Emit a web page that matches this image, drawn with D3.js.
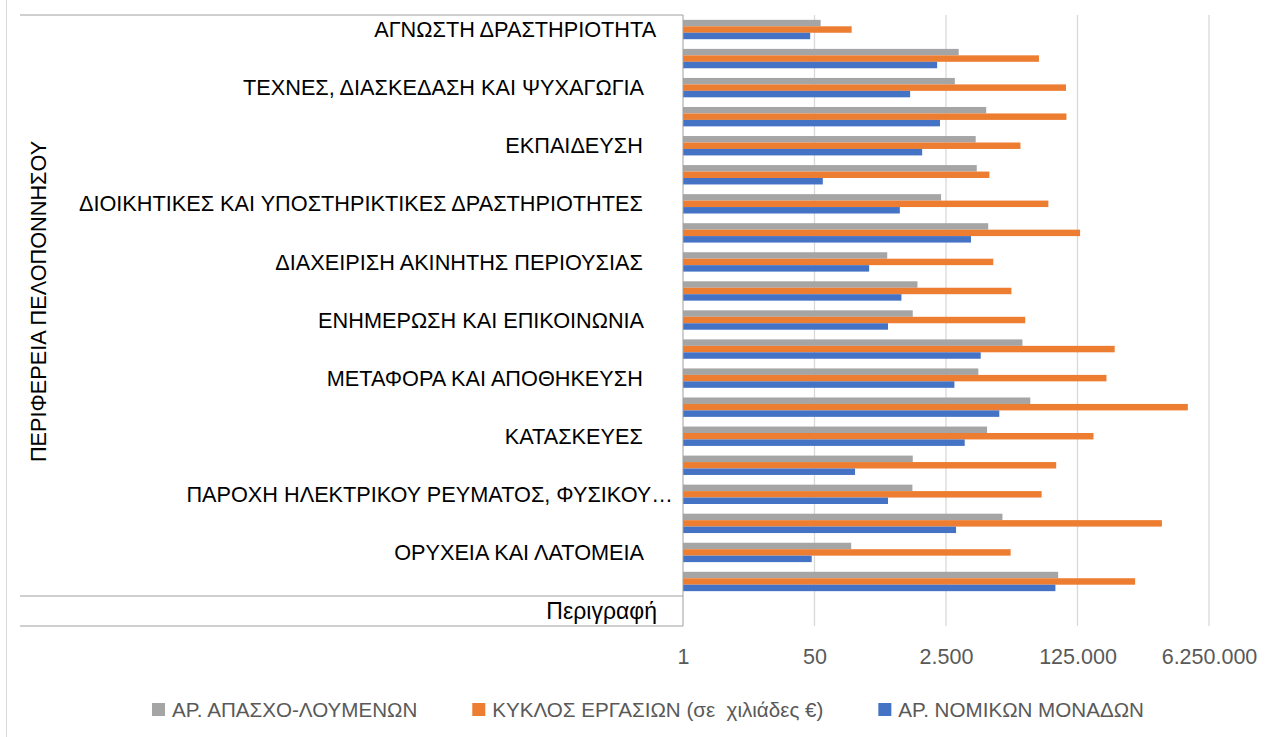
<!DOCTYPE html>
<html>
<head>
<meta charset="utf-8">
<script src="https://cdn.jsdelivr.net/npm/d3@7"></script>
<style>
  body { margin: 0; background: #fff; }
  svg text { font-family: "Liberation Sans", Arial, sans-serif; }
</style>
</head>
<body>
<svg id="chart"></svg>
<script>
// categories, listed top to bottom as they appear in the chart
const categories = [
    'ΑΓΝΩΣΤΗ ΔΡΑΣΤΗΡΙΟΤΗΤΑ',
    'ΑΛΛΕΣ ΔΡΑΣΤΗΡΙΟΤΗΤΕΣ ΠΑΡΟΧΗΣ ΥΠΗΡΕΣΙΩΝ',
    'ΤΕΧΝΕΣ, ΔΙΑΣΚΕΔΑΣΗ ΚΑΙ ΨΥΧΑΓΩΓΙΑ',
    'ΑΝΘΡΩΠΙΝΗ ΥΓΕΙΑ ΚΑΙ ΚΟΙΝΩΝΙΚΗ ΜΕΡΙΜΝΑ',
    'ΕΚΠΑΙΔΕΥΣΗ',
    'ΔΗΜΟΣΙΑ ΔΙΟΙΚΗΣΗ ΚΑΙ ΑΜΥΝΑ',
    'ΔΙΟΙΚΗΤΙΚΕΣ ΚΑΙ ΥΠΟΣΤΗΡΙΚΤΙΚΕΣ ΔΡΑΣΤΗΡΙΟΤΗΤΕΣ',
    'ΕΠΑΓΓΕΛΜΑΤΙΚΕΣ, ΕΠΙΣΤΗΜΟΝΙΚΕΣ ΚΑΙ ΤΕΧΝΙΚΕΣ ΔΡΑΣΤΗΡΙΟΤΗΤΕΣ',
    'ΔΙΑΧΕΙΡΙΣΗ ΑΚΙΝΗΤΗΣ ΠΕΡΙΟΥΣΙΑΣ',
    'ΧΡΗΜΑΤΟΠΙΣΤΩΤΙΚΕΣ ΚΑΙ ΑΣΦΑΛΙΣΤΙΚΕΣ ΔΡΑΣΤΗΡΙΟΤΗΤΕΣ',
    'ΕΝΗΜΕΡΩΣΗ ΚΑΙ ΕΠΙΚΟΙΝΩΝΙΑ',
    'ΚΑΤΑΛΥΜΑΤΑ ΚΑΙ ΥΠΗΡΕΣΙΕΣ ΕΣΤΙΑΣΗΣ',
    'ΜΕΤΑΦΟΡΑ ΚΑΙ ΑΠΟΘΗΚΕΥΣΗ',
    'ΧΟΝΔΡΙΚΟ ΚΑΙ ΛΙΑΝΙΚΟ ΕΜΠΟΡΙΟ',
    'ΚΑΤΑΣΚΕΥΕΣ',
    'ΠΑΡΟΧΗ ΝΕΡΟΥ, ΕΠΕΞΕΡΓΑΣΙΑ ΛΥΜΑΤΩΝ',
    'ΠΑΡΟΧΗ ΗΛΕΚΤΡΙΚΟΥ ΡΕΥΜΑΤΟΣ, ΦΥΣΙΚΟΥ ΑΕΡΙΟΥ',
    'ΜΕΤΑΠΟΙΗΣΗ',
    'ΟΡΥΧΕΙΑ ΚΑΙ ΛΑΤΟΜΕΙΑ',
    'ΓΕΩΡΓΙΑ, ΔΑΣΟΚΟΜΙΑ ΚΑΙ ΑΛΙΕΙΑ'
];

// only every other label is shown on the axis (trailing spaces as in the source)
const categoryLabels = [
    'ΑΓΝΩΣΤΗ ΔΡΑΣΤΗΡΙΟΤΗΤΑ   ', '',
    'ΤΕΧΝΕΣ, ΔΙΑΣΚΕΔΑΣΗ ΚΑΙ ΨΥΧΑΓΩΓΙΑ     ', '',
    'ΕΚΠΑΙΔΕΥΣΗ     ', '',
    'ΔΙΟΙΚΗΤΙΚΕΣ ΚΑΙ ΥΠΟΣΤΗΡΙΚΤΙΚΕΣ ΔΡΑΣΤΗΡΙΟΤΗΤΕΣ     ', '',
    'ΔΙΑΧΕΙΡΙΣΗ ΑΚΙΝΗΤΗΣ ΠΕΡΙΟΥΣΙΑΣ     ', '',
    'ΕΝΗΜΕΡΩΣΗ ΚΑΙ ΕΠΙΚΟΙΝΩΝΙΑ     ', '',
    'ΜΕΤΑΦΟΡΑ ΚΑΙ ΑΠΟΘΗΚΕΥΣΗ     ', '',
    'ΚΑΤΑΣΚΕΥΕΣ     ', '',
    'ΠΑΡΟΧΗ ΗΛΕΚΤΡΙΚΟΥ ΡΕΥΜΑΤΟΣ, ΦΥΣΙΚΟΥ…', '',
    'ΟΡΥΧΕΙΑ ΚΑΙ ΛΑΤΟΜΕΙΑ     ', ''
];

const employees = [60, 3650, 3250, 8270, 6050, 6240, 2160, 8780, 435, 1070,
    930, 24300, 6540, 30700, 8480, 930, 920, 13400, 149, 70300];
const turnover = [151, 39700, 88800, 89900, 22900, 9090, 52500, 135000, 10200, 17500,
    26400, 378000, 296000, 3330000, 201000, 66300, 43000, 1540000, 17100, 694000];
const legalUnits = [44, 1920, 860, 2090, 1230, 64, 633, 5260, 254, 664,
    445, 7020, 3210, 12200, 4360, 167, 445, 3370, 46, 64800];

const seriesNames = ['ΑΡ. ΑΠΑΣΧΟ-ΛΟΥΜΕΝΩΝ', 'ΚΥΚΛΟΣ ΕΡΓΑΣΙΩΝ (σε  χιλιάδες €)', 'ΑΡ. ΝΟΜΙΚΩΝ ΜΟΝΑΔΩΝ'];
const seriesColors = ['#a5a5a5', '#ed7d31', '#4472c4'];
const tickValues = [1, 50, 2500, 125000, 6250000];
const regionLabel = 'ΠΕΡΙΦΕΡΕΙΑ ΠΕΛΟΠΟΝΝΗΣΟΥ';
const descLabel = 'Περιγραφή';

class LogBarChart {

    constructor(_config) {
        this.config = {
            parentElement: _config.parentElement,
            containerWidth: 1277,
            containerHeight: 737,
            margin: { top: 15, left: 683 },
            plotHeight: 581,
            descRowHeight: 30,
            decadeWidth: 131.5,
            axisMax: 312500000,
            axisColor: '#a0a0a0',
            gridColor: '#d9d9d9',
            textColor: '#595959'
        };
        this.data = categories.map((c, i) => ({
            key: c,
            label: categoryLabels[i],
            values: [employees[i], turnover[i], legalUnits[i]]
        }));
        this.initVis();
    }

    initVis() {
        let vis = this;
        const cfg = vis.config;
        vis.height = cfg.plotHeight;

        vis.svg = d3.select(cfg.parentElement)
            .attr('width', cfg.containerWidth)
            .attr('height', cfg.containerHeight);

        // outer chart border (left edge only visible)
        vis.svg.append('line')
            .attr('x1', 6.5).attr('x2', 6.5)
            .attr('y1', 0).attr('y2', cfg.containerHeight)
            .attr('stroke', cfg.gridColor);

        vis.chart = vis.svg.append('g')
            .attr('transform', `translate(${cfg.margin.left},${cfg.margin.top})`);

        // log scale, base 50 (the axis runs past the right edge of the picture)
        vis.xScale = d3.scaleLog()
            .base(50)
            .domain([1, cfg.axisMax])
            .range([0, 5 * cfg.decadeWidth]);

        vis.yScale = d3.scaleBand()
            .domain(categories)
            .range([0, vis.height])
            .paddingInner(1 / 3)
            .paddingOuter(1 / 6);

        vis.ySub = d3.scaleBand()
            .domain(d3.range(seriesNames.length))
            .range([0, vis.yScale.bandwidth()]);

        vis.renderVis();
    }

    renderVis() {
        let vis = this;
        const cfg = vis.config;
        const locale = d3.formatLocale({ decimal: ',', thousands: '.', grouping: [3], currency: ['', '€'] });
        const fmt = locale.format(',d');
        const boxBottom = vis.height + cfg.descRowHeight;

        // gridlines (run down through the description row)
        vis.chart.append('g')
            .selectAll('line')
            .data(tickValues.slice(1))
            .join('line')
            .attr('x1', d => vis.xScale(d))
            .attr('x2', d => vis.xScale(d))
            .attr('y1', 0)
            .attr('y2', boxBottom)
            .attr('stroke', cfg.gridColor)
            .attr('stroke-width', 1.3);

        // x-axis tick labels
        vis.xAxis = d3.axisBottom(vis.xScale)
            .tickValues(tickValues)
            .tickFormat(fmt)
            .tickSize(0)
            .tickPadding(0);

        vis.xAxisG = vis.chart.append('g')
            .attr('transform', `translate(0,${vis.height + 53})`)
            .call(vis.xAxis);
        vis.xAxisG.select('.domain').remove();
        vis.xAxisG.selectAll('text')
            .attr('fill', cfg.textColor)
            .attr('font-size', 21.5)
            .attr('font-family', '"Liberation Sans", Arial, sans-serif')
            .attr('dy', '0.71em');

        // bars
        const groups = vis.chart.selectAll('.row')
            .data(vis.data)
            .join('g')
            .attr('class', 'row')
            .attr('transform', d => `translate(0,${vis.yScale(d.key)})`);

        groups.selectAll('rect')
            .data(d => d.values)
            .join('rect')
            .attr('x', 0)
            .attr('y', (d, i) => vis.ySub(i))
            .attr('width', d => vis.xScale(d))
            .attr('height', vis.ySub.bandwidth())
            .attr('fill', (d, i) => seriesColors[i]);

        // category box lines (multi-level axis)
        const boxLeft = 20 - cfg.margin.left;
        const rowLines = [0, vis.height, boxBottom];
        vis.chart.append('g')
            .selectAll('line')
            .data(rowLines)
            .join('line')
            .attr('x1', boxLeft)
            .attr('x2', 0)
            .attr('y1', d => d)
            .attr('y2', d => d)
            .attr('stroke', cfg.axisColor);

        vis.chart.append('line')
            .attr('x1', 0).attr('x2', 0)
            .attr('y1', 0).attr('y2', boxBottom)
            .attr('stroke', cfg.axisColor);

        // category labels
        vis.chart.append('g')
            .selectAll('text')
            .data(vis.data.filter(d => d.label !== ''))
            .join('text')
            .attr('x', -10)
            .attr('y', d => vis.yScale(d.key) + vis.yScale.bandwidth() / 2)
            .attr('dy', '0.35em')
            .attr('text-anchor', 'end')
            .attr('xml:space', 'preserve')
            .style('white-space', 'pre')
            .attr('font-size', 21.7)
            .attr('fill', '#000')
            .text(d => d.label);

        // outer level label
        vis.chart.append('text')
            .attr('transform', `translate(${38 - cfg.margin.left},${vis.height / 2 - 4}) rotate(-90)`)
            .attr('text-anchor', 'middle')
            .attr('dy', '0.35em')
            .attr('font-size', 21.7)
            .attr('fill', '#000')
            .text(regionLabel);

        vis.chart.append('text')
            .attr('x', -26)
            .attr('y', vis.height + 15)
            .attr('dy', '0.35em')
            .attr('text-anchor', 'end')
            .attr('font-size', 23)
            .attr('fill', '#000')
            .text(descLabel);

        vis.renderLegend();
    }

    renderLegend() {
        let vis = this;
        const cfg = vis.config;
        const legend = vis.svg.append('g')
            .attr('transform', 'translate(152,703)');
        let xPos = 0;
        seriesNames.forEach((name, i) => {
            const item = legend.append('g').attr('transform', `translate(${xPos},0)`);
            item.append('rect')
                .attr('width', 13)
                .attr('height', 13)
                .attr('fill', seriesColors[i]);
            const t = item.append('text')
                .attr('x', 20)
                .attr('y', 6.5)
                .attr('dy', '0.35em')
                .attr('font-size', 20.6)
                .attr('fill', cfg.textColor)
                .attr('xml:space', 'preserve')
                .style('white-space', 'pre')
                .text(name);
            xPos += 20 + t.node().getComputedTextLength() + 55;
        });
    }
}

new LogBarChart({ parentElement: '#chart' });
</script>
</body>
</html>
